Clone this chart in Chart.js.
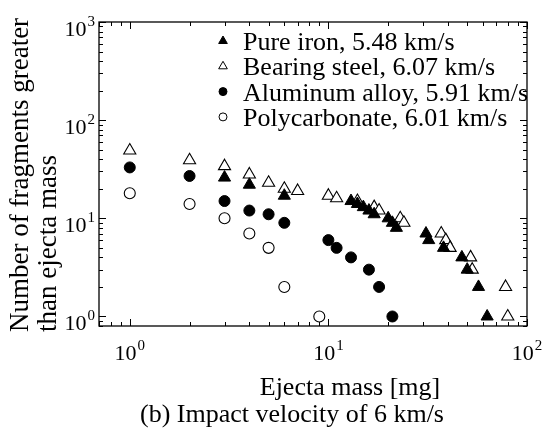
<!DOCTYPE html>
<html>
<head>
<meta charset="utf-8">
<title>Fragments vs ejecta mass</title>
<script src="https://cdn.jsdelivr.net/npm/chart.js"></script>
<style>
  html, body { margin: 0; padding: 0; background: #fff; }
  #wrap { width: 547px; height: 441px; }
</style>
</head>
<body>
<div id="wrap"><canvas id="fragChart" width="547" height="441"></canvas></div>
<script>
// ************** values ***************************************
const seriesLabels = ["Pure iron, 5.48 km/s", "Bearing steel, 6.07 km/s", "Aluminum alloy, 5.91 km/s", "Polycarbonate, 6.01 km/s"];

const ironMass = [3, 4, 6, 13, 14, 15, 16, 17, 20, 21, 22, 31, 32, 38, 47, 50, 57, 63];
const ironCount = [26, 22, 17, 15, 14, 13, 12, 11, 10, 9, 8, 7, 6, 5, 4, 3, 2, 1];

const steelMass = [1, 2, 3, 4, 5, 6, 7, 10, 11, 14, 17, 18, 23, 24, 37, 39, 41, 52, 53, 78, 80];
const steelCount = [49, 39, 34, 28, 23, 20, 19, 17, 16, 15, 13, 12, 10, 9, 7, 6, 5, 4, 3, 2, 1];

const alloyMass = [1, 2, 3, 4, 5, 6, 10, 11, 13, 16, 18, 21];
const alloyCount = [33, 27, 15, 12, 11, 9, 6, 5, 4, 3, 2, 1];

const polyMass = [1, 2, 3, 4, 5, 6, 9];
const polyCount = [18, 14, 10, 7, 5, 2, 1];

const xTickExp = [0, 1, 2];
const yTickExp = [0, 1, 2, 3];
const xTitle = "Ejecta mass [mg]";
const yTitleLines = ["Number of fragments greater", "than ejecta mass"];
const caption = "(b) Impact velocity of 6 km/s";

const serif = '"Liberation Serif", "Times New Roman", serif';

function toPoints(xs, ys) {
    return xs.map(function (x, i) { return { x: x, y: ys[i] }; });
}

function drawMarker(ctx, style, filled, x, y, r) {
    ctx.beginPath();
    if (style === 'triangle') {
        for (let k = 0; k < 3; k++) {
            const a = k * 2 * Math.PI / 3;
            const px = x + Math.sin(a) * r, py = y - Math.cos(a) * r;
            if (k === 0) ctx.moveTo(px, py); else ctx.lineTo(px, py);
        }
        ctx.closePath();
    } else {
        ctx.arc(x, y, r, 0, Math.PI * 2);
    }
    ctx.fillStyle = filled ? '#000' : '#fff';
    ctx.fill();
    ctx.stroke();
}

// "10" with a raised exponent; y is the baseline of "10"
function drawPow(ctx, exp, x, y, align) {
    ctx.font = '22px ' + serif;
    const w1 = ctx.measureText('10').width;
    ctx.font = '15px ' + serif;
    const w2 = ctx.measureText(String(exp)).width;
    const total = w1 + 1 + w2;
    const x0 = align === 'center' ? x - total / 2 : x - total;
    ctx.textAlign = 'left';
    ctx.textBaseline = 'alphabetic';
    ctx.font = '22px ' + serif;
    ctx.fillText('10', x0, y);
    ctx.font = '15px ' + serif;
    ctx.fillText(String(exp), x0 + w1 + 1, y - 10);
}

function logTickValues(min, max) {
    const out = [];
    for (let e = Math.floor(Math.log10(min)); e <= Math.ceil(Math.log10(max)); e++) {
        for (let m = 1; m <= 9; m++) {
            const v = m * Math.pow(10, e);
            if (v >= min * 0.999 && v <= max * 1.001) out.push({ v: v, major: m === 1 });
        }
    }
    return out;
}

// frame, inward ticks on all sides, labels, titles and the inset legend
const paperDecor = {
    id: 'paperDecor',
    afterDraw(chart) {
        const ctx = chart.ctx;
        const a = chart.chartArea;
        const sx = chart.scales.x, sy = chart.scales.y;
        ctx.save();
        ctx.strokeStyle = '#000';
        ctx.fillStyle = '#000';
        ctx.lineWidth = 1.3;
        ctx.strokeRect(a.left, a.top, a.right - a.left, a.bottom - a.top);

        ctx.lineWidth = 1;
        ctx.beginPath();
        logTickValues(sx.min, sx.max).forEach(function (t) {
            const px = Math.round(sx.getPixelForValue(t.v)) + 0.5;
            const len = t.major ? 7 : 4;
            ctx.moveTo(px, a.bottom); ctx.lineTo(px, a.bottom - len);
            ctx.moveTo(px, a.top); ctx.lineTo(px, a.top + len);
        });
        logTickValues(sy.min, sy.max).forEach(function (t) {
            const py = Math.round(sy.getPixelForValue(t.v)) + 0.5;
            const len = t.major ? 7 : 4;
            ctx.moveTo(a.left, py); ctx.lineTo(a.left + len, py);
            ctx.moveTo(a.right, py); ctx.lineTo(a.right - len, py);
        });
        ctx.stroke();

        ctx.fillStyle = '#000';
        xTickExp.forEach(function (e) {
            drawPow(ctx, e, sx.getPixelForValue(Math.pow(10, e)), 360, 'center');
        });
        yTickExp.forEach(function (e) {
            drawPow(ctx, e, a.left - 4, sy.getPixelForValue(Math.pow(10, e)) + 14, 'right');
        });

        // axis titles and caption
        ctx.font = '26px ' + serif;
        ctx.textAlign = 'center';
        ctx.textBaseline = 'alphabetic';
        ctx.fillText(xTitle, 350, 395);
        ctx.fillText(caption, 292, 422);

        ctx.save();
        ctx.font = '27px ' + serif;
        ctx.textAlign = 'left';
        ctx.translate(0, 332);
        ctx.rotate(-Math.PI / 2);
        ctx.fillText(yTitleLines[0], 0, 28);
        ctx.fillText(yTitleLines[1], 0, 56);
        ctx.restore();

        // legend
        ctx.font = '26px ' + serif;
        ctx.textAlign = 'left';
        ctx.lineWidth = 1;
        chart.data.datasets.forEach(function (ds, i) {
            const cy = 41 + i * 25.3;
            const filled = ds.backgroundColor === '#000';
            drawMarker(ctx, ds.pointStyle, filled, 223, cy, ds.pointStyle === 'triangle' ? 5 : 4);
            ctx.fillStyle = '#000';
            ctx.fillText(ds.label, 243, cy + 9);
        });
        ctx.restore();
    }
};

new Chart(document.getElementById('fragChart'), {
    type: 'scatter',
    data: {
        datasets: [{
            label: seriesLabels[0],
            data: toPoints(ironMass, ironCount),
            pointStyle: 'triangle',
            pointRadius: 7,
            backgroundColor: '#000',
            borderColor: '#000',
            borderWidth: 1
        }, {
            label: seriesLabels[1],
            data: toPoints(steelMass, steelCount),
            pointStyle: 'triangle',
            pointRadius: 7,
            backgroundColor: '#fff',
            borderColor: '#000',
            borderWidth: 1.1
        }, {
            label: seriesLabels[2],
            data: toPoints(alloyMass, alloyCount),
            pointStyle: 'circle',
            pointRadius: 5.5,
            backgroundColor: '#000',
            borderColor: '#000',
            borderWidth: 1
        }, {
            label: seriesLabels[3],
            data: toPoints(polyMass, polyCount),
            pointStyle: 'circle',
            pointRadius: 5.5,
            backgroundColor: '#fff',
            borderColor: '#000',
            borderWidth: 1.1
        }]
    },
    options: {
        responsive: false,
        animation: false,
        devicePixelRatio: 1,
        clip: false,
        layout: { padding: { left: 99, top: 22, right: 20, bottom: 115 } },
        plugins: {
            legend: { display: false },
            tooltip: { enabled: false }
        },
        events: [],
        scales: {
            x: { type: 'logarithmic', min: 0.7, max: 100, display: false },
            y: { type: 'logarithmic', min: 0.8, max: 1000, display: false }
        }
    },
    plugins: [paperDecor]
});
</script>
</body>
</html>
